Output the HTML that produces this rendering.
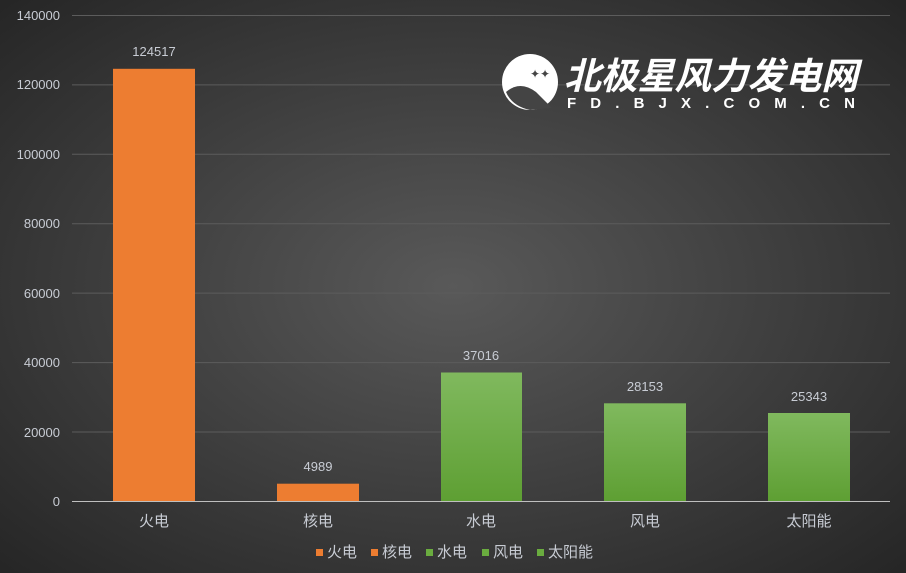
<!DOCTYPE html>
<html><head><meta charset="utf-8"><style>
body{margin:0;width:906px;height:573px;overflow:hidden;background:#3a3a3a}
svg{display:block}
text{font-family:"Liberation Sans","Noto Sans CJK SC",sans-serif}
</style></head><body>
<svg width="906" height="573" xmlns="http://www.w3.org/2000/svg">
<defs>
<radialGradient id="bg" cx="0.5" cy="0.5" r="0.7">
<stop offset="0" stop-color="#595959"/><stop offset="1" stop-color="#262626"/>
</radialGradient>
<linearGradient id="gr" x1="0" y1="0" x2="0" y2="1">
<stop offset="0" stop-color="#80b95e"/><stop offset="1" stop-color="#5e9f33"/>
</linearGradient>
</defs>
<rect width="906" height="573" fill="url(#bg)"/>
<g stroke="#5c5c5c" stroke-width="1">
<line x1="72" x2="890" y1="15.5" y2="15.5"/><line x1="72" x2="890" y1="84.9" y2="84.9"/>
<line x1="72" x2="890" y1="154.3" y2="154.3"/><line x1="72" x2="890" y1="223.7" y2="223.7"/>
<line x1="72" x2="890" y1="293.1" y2="293.1"/><line x1="72" x2="890" y1="362.6" y2="362.6"/>
<line x1="72" x2="890" y1="432" y2="432"/>
</g>
<g fill="#c8ccd4" font-size="13" text-anchor="end">
<text x="60" y="20">140000</text><text x="60" y="89">120000</text><text x="60" y="159">100000</text>
<text x="60" y="228">80000</text><text x="60" y="298">60000</text><text x="60" y="367">40000</text>
<text x="60" y="437">20000</text><text x="60" y="506">0</text>
</g>
<rect x="113" y="68.8" width="82" height="432.2" fill="#ed7d31"/>
<rect x="277" y="483.7" width="82" height="17.3" fill="#ed7d31"/>
<rect x="441" y="372.5" width="81" height="128.5" fill="url(#gr)"/>
<rect x="604" y="403.3" width="82" height="97.7" fill="url(#gr)"/>
<rect x="768" y="413" width="82" height="88" fill="url(#gr)"/>
<line x1="72" x2="890" y1="501.5" y2="501.5" stroke="#bfbfbf"/>
<g fill="#c8ccd4" font-size="13" text-anchor="middle">
<text x="154" y="56">124517</text><text x="318" y="471">4989</text><text x="481" y="360">37016</text>
<text x="645" y="391">28153</text><text x="809" y="401">25343</text>
</g>
<g fill="#c8ccd4" font-size="15" text-anchor="middle">
<text x="154" y="526">火电</text><text x="318" y="526">核电</text><text x="481" y="526">水电</text>
<text x="645" y="526">风电</text><text x="809" y="526">太阳能</text>
</g>
<g font-size="15" fill="#c8ccd4">
<rect x="316" y="549" width="7" height="7" fill="#ed7d31"/><text x="327" y="557">火电</text>
<rect x="371" y="549" width="7" height="7" fill="#ed7d31"/><text x="382" y="557">核电</text>
<rect x="426" y="549" width="7" height="7" fill="#6aac3f"/><text x="437" y="557">水电</text>
<rect x="482" y="549" width="7" height="7" fill="#6aac3f"/><text x="493" y="557">风电</text>
<rect x="537" y="549" width="7" height="7" fill="#6aac3f"/><text x="548" y="557">太阳能</text>
</g>
<g fill="#fff">
<circle cx="530" cy="82" r="28"/>
<path d="M506 92 Q520 80 536 92 Q546 102 552 108 L530 110 Q512 106 506 92Z" fill="#444"/>
<text x="530" y="78" font-size="12" fill="#444">✦✦</text>
<text x="564" y="89" font-size="37" font-weight="bold" font-style="italic" textLength="294" lengthAdjust="spacingAndGlyphs">北极星风力发电网</text>
<text x="567" y="108" font-size="15" font-weight="bold" textLength="288" lengthAdjust="spacing">FD.BJX.COM.CN</text>
</g>
</svg>
</body></html>
